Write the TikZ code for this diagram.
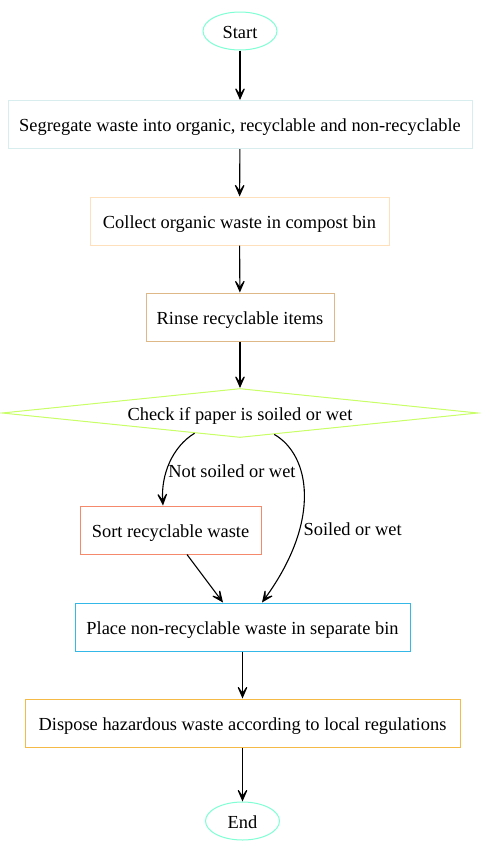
\documentclass[tikz,border=0pt]{standalone}
\usepackage{fontspec}
\setmainfont{Liberation Serif}
\usetikzlibrary{shapes.geometric,arrows.meta,calc}
\definecolor{aqua}{HTML}{7FFFD4}
\definecolor{azurec}{HTML}{D8EEEE}
\definecolor{bisquec}{HTML}{FFE0BC}
\definecolor{burly}{HTML}{DEB887}
\definecolor{ygreen}{HTML}{C8FF66}
\definecolor{salmonc}{HTML}{F4896B}
\definecolor{skyc}{HTML}{33B8E8}
\definecolor{goldc}{HTML}{F5BA45}
\tikzset{
  base/.style={draw,line width=1pt,inner sep=0pt,text height=14.4pt,text depth=0pt,font=\fontsize{18.4}{22}\selectfont},
  term/.style={base,ellipse,draw=aqua,minimum width=74pt,minimum height=38pt},
  stepbox/.style={base,rectangle,minimum height=48pt},
  test/.style={base,diamond,draw=ygreen,aspect=9.7,minimum width=476pt,minimum height=49pt},
  flow/.style={line width=1.1pt,-{Stealth[length=16pt,width=14pt,inset=10pt]}},
  lbl/.style={font=\fontsize{18.4}{22}\selectfont,inner sep=1pt}
}
\begin{document}
\begin{tikzpicture}[x=1pt,y=-1pt]
	\useasboundingbox (0,0) rectangle (480,849);
	\node[term] (start) at (240,31) {Start};
	\node[stepbox,draw=azurec,minimum width=464pt] (seg) at (240,124.5) {Segregate waste into organic, recyclable and non-recyclable};
	\node[stepbox,draw=bisquec,minimum width=299pt] (org) at (239.5,221) {Collect organic waste in compost bin};
	\node[stepbox,draw=burly,minimum width=188pt] (rinse) at (240,317) {Rinse recyclable items};
	\node[test] (chk) at (240,413) {Check if paper is soiled or wet};
	\node[stepbox,draw=salmonc,minimum width=181pt] (sort) at (170.5,530) {Sort recyclable waste};
	\node[stepbox,draw=skyc,minimum width=335pt] (place) at (242.5,627) {Place non-recyclable waste in separate bin};
	\node[stepbox,draw=goldc,minimum width=435pt] (haz) at (242.5,723) {Dispose hazardous waste according to local regulations};
	\node[term] (end) at (242.5,821) {End};
	% straight links
	\foreach \a/\b in {start/seg,seg/org,org/rinse,rinse/chk,place/haz,haz/end}
		\draw[flow] (\a) -- (\b);
	% branches of the test
	\draw[flow] (chk.204) .. controls (172,447) and (161,475) .. ([xshift=-7.5pt]sort.north)
		node[lbl,pos=0.6,anchor=west] {Not soiled or wet};
	\draw[flow] (chk.328) .. controls (310,455) and (322,520) .. ([xshift=19.5pt]place.north)
		node[lbl,pos=0.68,anchor=west,xshift=3pt] {Soiled or wet};
	\draw[flow] ([xshift=16.5pt]sort.south) -- ([xshift=-19.5pt]place.north);
\end{tikzpicture}
\end{document}
